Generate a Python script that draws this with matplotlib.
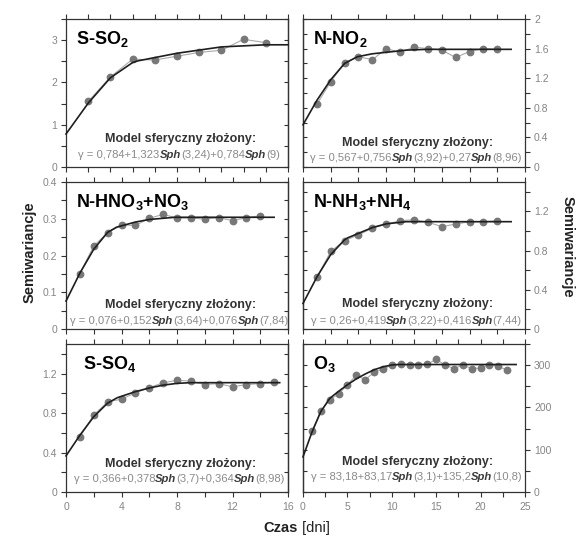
import matplotlib
matplotlib.use('Agg')
import matplotlib.pyplot as plt
from matplotlib.ticker import MultipleLocator, FuncFormatter, NullFormatter
from matplotlib.offsetbox import TextArea, HPacker, AnchoredOffsetbox

plt.rcParams['font.family'] = ['Liberation Sans', 'DejaVu Sans']
plt.rcParams['mathtext.fontset'] = 'custom'
plt.rcParams['mathtext.rm'] = 'Liberation Sans'
plt.rcParams['mathtext.bf'] = 'Liberation Sans:bold'
plt.rcParams['mathtext.it'] = 'Liberation Sans:italic'

# ---------------- data ----------------
titles = ['S-SO$_\\mathbf{2}$', 'N-NO$_\\mathbf{2}$', 'N-HNO$_\\mathbf{3}$+NO$_\\mathbf{3}$',
          'N-NH$_\\mathbf{3}$+NH$_\\mathbf{4}$', 'S-SO$_\\mathbf{4}$', 'O$_\\mathbf{3}$']

so2_x = [1, 2, 3, 4, 5, 6, 7, 8, 9]
so2_y = [1.55, 2.13, 2.55, 2.53, 2.62, 2.71, 2.76, 3.02, 2.94]
so2_mx = [0, 1, 2, 3, 3.24, 5, 7, 9, 10]
so2_my = [0.78, 1.51, 2.11, 2.47, 2.51, 2.69, 2.84, 2.89, 2.89]

no2_x = [1, 2, 3, 4, 5, 6, 7, 8, 9, 10, 11, 12, 13, 14]
no2_y = [0.85, 1.15, 1.41, 1.49, 1.45, 1.60, 1.55, 1.62, 1.60, 1.58, 1.48, 1.56, 1.60, 1.59]
no2_mx = [0, 1, 2, 3, 3.92, 5, 6, 7.5, 8.96, 15]
no2_my = [0.57, 0.90, 1.18, 1.40, 1.49, 1.53, 1.55, 1.58, 1.59, 1.59]

hno3_x = [1, 2, 3, 4, 5, 6, 7, 8, 9, 10, 11, 12, 13, 14]
hno3_y = [0.151, 0.226, 0.262, 0.283, 0.282, 0.301, 0.312, 0.302, 0.302, 0.299, 0.303, 0.295, 0.303, 0.308]
hno3_mx = [0, 1, 2, 3, 3.64, 5, 6, 7.84, 15]
hno3_my = [0.076, 0.152, 0.217, 0.263, 0.277, 0.291, 0.298, 0.304, 0.304]

nh3_x = [1, 2, 3, 4, 5, 6, 7, 8, 9, 10, 11, 12, 13, 14]
nh3_y = [0.526, 0.792, 0.903, 0.96, 1.03, 1.07, 1.105, 1.115, 1.09, 1.045, 1.07, 1.095, 1.095, 1.105]
nh3_mx = [0, 1, 2, 3, 3.22, 5, 6, 7.44, 15]
nh3_my = [0.26, 0.53, 0.76, 0.91, 0.93, 1.035, 1.073, 1.095, 1.095]

so4_x = [1, 2, 3, 4, 5, 6, 7, 8, 9, 10, 11, 12, 13, 14, 15]
so4_y = [0.561, 0.78, 0.914, 0.941, 1.005, 1.059, 1.106, 1.133, 1.123, 1.089, 1.099, 1.066, 1.089, 1.099, 1.116]
so4_mx = [0, 1, 2, 3, 3.7, 5, 6, 7, 8, 8.98, 15.4]
so4_my = [0.366, 0.575, 0.763, 0.901, 0.956, 1.017, 1.054, 1.083, 1.101, 1.108, 1.108]

o3_x = list(range(1, 24))
o3_y = [143.8, 190.9, 218, 231.7, 253.7, 276.5, 265.5, 282.8, 290.7, 300, 302, 300.9,
        300.9, 302, 314, 300, 292, 300, 292, 293, 301, 297, 288.3]
o3_mx = [0, 1, 2, 3, 3.1, 4, 5, 6, 7, 8, 9, 10, 10.8, 24]
o3_my = [83, 141, 190, 221, 223, 238, 253.5, 267.5, 279, 289, 296, 300.4, 301.5, 301.5]

points_x = [so2_x, no2_x, hno3_x, nh3_x, so4_x, o3_x]
points_y = [so2_y, no2_y, hno3_y, nh3_y, so4_y, o3_y]
model_x = [so2_mx, no2_mx, hno3_mx, nh3_mx, so4_mx, o3_mx]
model_y = [so2_my, no2_my, hno3_my, nh3_my, so4_my, o3_my]

nuggets = ['0,784', '0,567', '0,076', '0,26', '0,366', '83,18']
c1 = ['1,323', '0,756', '0,152', '0,419', '0,378', '83,17']
a1 = ['3,24', '3,92', '3,64', '3,22', '3,7', '3,1']
c2 = ['0,784', '0,27', '0,076', '0,416', '0,364', '135,2']
a2 = ['9', '8,96', '7,84', '7,44', '8,98', '10,8']

ylims = [3.5, 2, 0.4, 1.5, 1.5, 350]
ytick_step = [0.5, 0.2, 0.05, 0.2, 0.2, 50]
ylabel_step = [1, 0.4, 0.1, 0.4, 0.4, 100]
xlims = [10, 16, 16, 16, 16, 25]
xtick_step = [1, 2, 2, 2, 2, 2.5]
xlabel_step = [None, None, None, None, 4, 5]

model_label_y = [0.19, 0.165, 0.165, 0.17, 0.19, 0.205]
formula_y = [0.08, 0.06, 0.055, 0.055, 0.085, 0.1]

# ---------------- layout ----------------
W, H = 581, 538
fig = plt.figure(figsize=(W / 100, H / 100), dpi=100)
col_x = [(66, 288), (303, 525)]
row_y = [(19, 167), (182, 329), (344, 492)]

SPINE = '#333333'
TICKLAB = '#858585'

fmt = FuncFormatter(lambda v, p: '%g' % round(v, 6))

for i in range(6):
    r, c = divmod(i, 2)
    x0, x1 = col_x[c]
    y0, y1 = row_y[r]
    ax = fig.add_axes([x0 / W, 1 - y1 / H, (x1 - x0) / W, (y1 - y0) / H])
    ax.set_xlim(0, xlims[i])
    ax.set_ylim(0, ylims[i])

    ax.plot(points_x[i], points_y[i], color='#aaaaaa', lw=0.8, zorder=2)
    ax.plot(points_x[i], points_y[i], 'o', color='#787878', ms=4.6, mec='#787878', zorder=3)
    ax.plot(model_x[i], model_y[i], color='#1e1e1e', lw=1.2, zorder=4, clip_on=False)

    for s in ax.spines.values():
        s.set_color(SPINE)
        s.set_linewidth(0.9)

    # x ticks
    ax.xaxis.set_major_locator(MultipleLocator(xlabel_step[i] if xlabel_step[i] else xtick_step[i]))
    ax.xaxis.set_minor_locator(MultipleLocator(xtick_step[i]))
    ax.xaxis.set_major_formatter(fmt)
    ax.tick_params(axis='x', which='both', direction='out', top=True, bottom=True,
                   length=3.5, width=0.8, color=SPINE, labelsize=7.5, labelcolor=TICKLAB,
                   labelbottom=xlabel_step[i] is not None, pad=4)

    # y ticks
    ax.yaxis.set_major_locator(MultipleLocator(ylabel_step[i]))
    ax.yaxis.set_minor_locator(MultipleLocator(ytick_step[i]))
    ax.yaxis.set_major_formatter(fmt)
    if c == 0:
        ax.tick_params(axis='y', which='both', direction='out', left=True, right=False,
                       labelleft=True, labelright=False, length=3.5, width=0.8, color=SPINE,
                       labelsize=7.5, labelcolor=TICKLAB, pad=3)
        sec = ax.secondary_yaxis('right')
    else:
        ax.tick_params(axis='y', which='both', direction='out', left=False, right=True,
                       labelleft=False, labelright=True, length=3.5, width=0.8, color=SPINE,
                       labelsize=7.5, labelcolor=TICKLAB, pad=3)
        sec = ax.secondary_yaxis('left')
    sec.yaxis.set_major_locator(MultipleLocator(ytick_step[i]))
    sec.yaxis.set_major_formatter(NullFormatter())
    sec.tick_params(axis='y', which='both', direction='in', length=3, width=0.8, color=SPINE)
    for s in sec.spines.values():
        s.set_color(SPINE)
        s.set_linewidth(0.9)

    # title
    tx = 0.075 if i == 4 else 0.045
    ax.text(tx, 0.935, titles[i], transform=ax.transAxes, fontsize=13, fontweight='bold',
            va='top', ha='left', color='black', zorder=5)

    # model label
    ax.text(0.515, model_label_y[i], 'Model sferyczny złożony:', transform=ax.transAxes,
            ha='center', va='center', fontsize=9, fontweight='bold', color='#333333', zorder=5)

    gray = dict(color='#8a8a8a', fontsize=8.1)
    dark = dict(color='#3a3a3a', fontsize=8.1, fontweight='bold', fontstyle='italic')
    parts = [
        TextArea('γ = %s+%s' % (nuggets[i], c1[i]), textprops=gray),
        TextArea('Sph', textprops=dark),
        TextArea('(%s)+%s' % (a1[i], c2[i]), textprops=gray),
        TextArea('Sph', textprops=dark),
        TextArea('(%s)' % a2[i], textprops=gray),
    ]
    hp = HPacker(children=parts, pad=0, sep=0, align='baseline')
    ab = AnchoredOffsetbox(loc='center', child=hp, pad=0, borderpad=0, frameon=False,
                           bbox_to_anchor=(0.51, formula_y[i]), bbox_transform=ax.transAxes)
    ab.set_zorder(5)
    ax.add_artist(ab)

fig.text(30 / W, 1 - 252 / H, 'Semiwariancje', rotation=90, ha='center', va='center',
         fontsize=10.5, fontweight='bold', color='#222222')
fig.text(568 / W, 1 - 247 / H, 'Semiwariancje', rotation=270, ha='center', va='center',
         fontsize=10.5, fontweight='bold', color='#222222')

xl = HPacker(children=[TextArea('Czas', textprops=dict(fontsize=10.5, fontweight='bold', color='#222222')),
                       TextArea(' [dni]', textprops=dict(fontsize=10.5, color='#222222'))],
             pad=0, sep=0, align='baseline')
xlab = AnchoredOffsetbox(loc='center', child=xl, pad=0, borderpad=0, frameon=False,
                         bbox_to_anchor=(297 / W, 1 - 528 / H), bbox_transform=fig.transFigure)
fig.add_artist(xlab)

fig.savefig('out.png', dpi=100)
